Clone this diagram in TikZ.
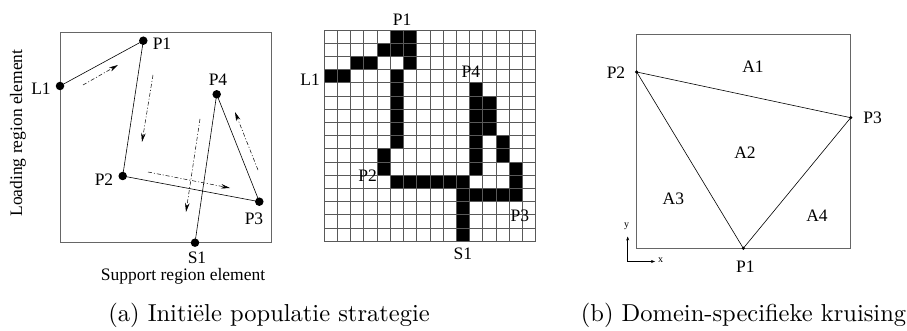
\documentclass[tikz,border=0pt]{standalone}
\usepackage{fontspec}
\newfontfamily\tms{Liberation Serif}
\newfontfamily\capfont{lmroman10-regular.otf}
\usetikzlibrary{arrows.meta}
\begin{document}
\begin{tikzpicture}[x=1pt,y=-1pt,
  pdot/.style={circle,fill=black,inner sep=0pt,minimum size=8.5pt},
  sdot/.style={circle,fill=black,inner sep=0pt,minimum size=3.5pt},
  lab/.style={font=\tms\fontsize{17.5}{17.5}\selectfont,inner sep=0pt},
  slab/.style={font=\tms\fontsize{10}{10}\selectfont,inner sep=0pt},
  boxframe/.style={draw=black!60,line width=0.9pt},
  seg/.style={draw=black,line width=0.6pt},
  dd/.style={dash pattern=on 4pt off 2pt on 1pt off 2pt,line width=0.5pt,-{Stealth[length=9pt,width=4.5pt]}},
  captxt/.style={font=\capfont\fontsize{24.5}{24.5}\selectfont,inner sep=0pt,anchor=base}]
\useasboundingbox (0,0) rectangle (907,331);
% ---------- panel (a) left
\draw[boxframe] (60,32) rectangle (271,242);
\node[pdot] (aP1) at (143.3,40.7) {};
\node[pdot] (aL1) at (60,86) {};
\node[pdot] (aP4) at (216.7,94.3) {};
\node[pdot] (aP2) at (122.7,176) {};
\node[pdot] (aP3) at (259.3,201.7) {};
\node[pdot] (aS1) at (195,242.7) {};
\draw[seg] (aL1.center) -- (aP1.center) -- (aP2.center) -- (aP3.center) -- (aP4.center) -- (aS1.center);
\node[lab] at (162,44) {P1};
\node[lab] at (41,89) {L1};
\node[lab] at (218,80) {P4};
\node[lab] at (104,180) {P2};
\node[lab] at (254,219) {P3};
\node[lab] at (197,258) {S1};
\node[lab] at (183,276) {Support region element};
\node[lab,rotate=90] at (18,133) {Loading region element};
\coordinate (d1a) at (83,85);  \coordinate (d1b) at (118,65);
\coordinate (d2a) at (153,75); \coordinate (d2b) at (142,142);
\coordinate (d3a) at (200,119); \coordinate (d3b) at (186,212);
\coordinate (d4a) at (148,172); \coordinate (d4b) at (230,188);
\coordinate (d5a) at (258,170); \coordinate (d5b) at (235,112);
\draw[dd] (d1a) -- (d1b);
\draw[dd] (d2a) -- (d2b);
\draw[dd] (d3a) -- (d3b);
\draw[dd] (d4a) -- (d4b);
\draw[dd] (d5a) -- (d5b);
% ---------- panel (a) grid
\begin{scope}[shift={(324,30)},x=13.23pt,y=-13.19pt]
\foreach \c/\r in {5/0,6/0,4/1,5/1,6/1,2/2,3/2,6/2,0/3,1/3,5/3,5/4,5/5,5/6,5/7,5/8,4/9,4/10,
  5/11,6/11,7/11,8/11,9/11,10/11,10/12,10/13,10/14,10/15,
  11/4,11/5,11/6,11/7,11/8,11/9,11/10,12/5,12/6,12/7,13/8,13/9,14/10,14/11,14/12,11/12,12/12,13/12}
  \fill (\c,\r) rectangle ++(1,1);
\draw[black!65,line width=0.6pt,xstep=13.23pt,ystep=13.19pt] (0,0) grid (16,16);
\node[lab] (gP1) at (5.9,-0.75) {P1};
\node[lab] (gL1) at (-1.05,3.8) {L1};
\node[lab] (gP4) at (11.1,3.15) {P4};
\node[lab] (gP2) at (3.3,11.05) {P2};
\node[lab] (gP3) at (14.8,14.1) {P3};
\node[lab] (gS1) at (10.5,17.0) {S1};
\end{scope}
% ---------- panel (b)
\draw[boxframe] (636,34.3) rectangle (850.7,248.3);
\node[sdot] (bP2) at (636.7,72) {};
\node[sdot] (bP3) at (850.7,117.7) {};
\node[sdot] (bP1) at (743.3,248.3) {};
\draw[seg] (bP2.center) -- (bP3.center) -- (bP1.center) -- (bP2.center);
\node[lab] at (616,73) {P2};
\node[lab] at (872.7,117.7) {P3};
\node[lab] at (745.3,266.7) {P1};
\node[lab] at (753,67) {A1};
\node[lab] at (745,153) {A2};
\node[lab] at (673.3,199) {A3};
\node[lab] at (817,216) {A4};
\coordinate (ax0) at (627.7,261.5);
\coordinate (axy) at (627.7,236.5);
\coordinate (axx) at (655,261.5);
\draw[line width=0.5pt,-{Stealth[length=4pt,width=3pt]}] (ax0) -- (axy);
\draw[line width=0.5pt,-{Stealth[length=4pt,width=3pt]}] (ax0) -- (axx);
\node[slab] at (626.5,226) {y};
\node[slab] at (660.5,260) {x};
% ---------- captions
\node[captxt] at (269,321) {(a) Initiële populatie strategie};
\node[captxt] at (743.5,321) {(b) Domein-specifieke kruising};
\end{tikzpicture}
\end{document}
